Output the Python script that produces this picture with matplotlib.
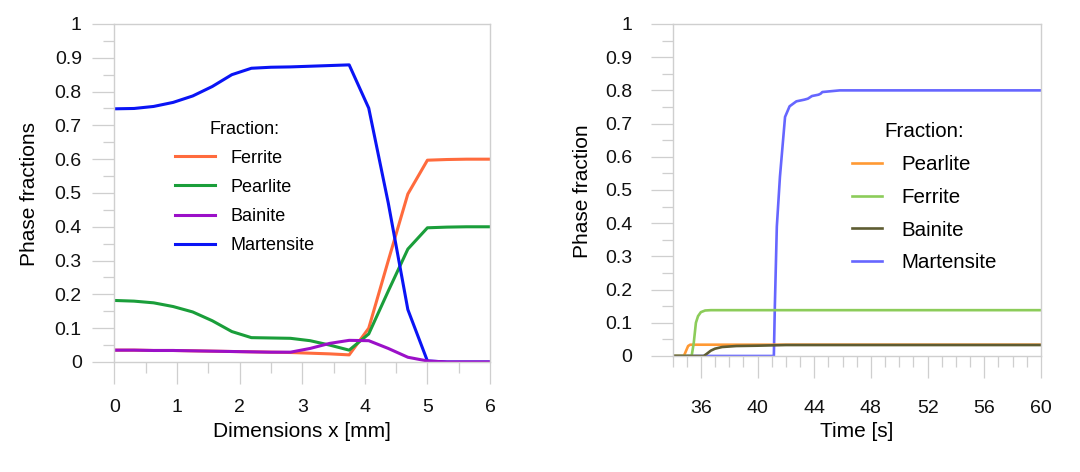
import matplotlib
matplotlib.use('Agg')
import matplotlib.pyplot as plt
from matplotlib.ticker import MultipleLocator

plt.rcParams['font.family'] = ['Liberation Sans', 'DejaVu Sans']

# left: phase fractions along the specimen
x_mm = [0, 0.3125, 0.625, 0.9375, 1.25, 1.5625, 1.875, 2.1875, 2.5, 2.8125,
        3.125, 3.4375, 3.75, 4.0625, 4.375, 4.6875, 5.0, 5.3125, 5.625, 6.0]
ferrite = [0.035, 0.035, 0.034, 0.034, 0.033, 0.032, 0.031, 0.030, 0.029, 0.028,
           0.026, 0.024, 0.021, 0.100, 0.300, 0.497, 0.597, 0.599, 0.600, 0.600]
pearlite = [0.182, 0.180, 0.175, 0.164, 0.148, 0.122, 0.090, 0.072, 0.071, 0.070,
            0.063, 0.050, 0.035, 0.083, 0.210, 0.334, 0.397, 0.399, 0.400, 0.400]
bainite = [0.035, 0.035, 0.034, 0.034, 0.033, 0.032, 0.031, 0.030, 0.029, 0.029,
           0.040, 0.055, 0.064, 0.063, 0.040, 0.014, 0.003, 0.000, 0.000, 0.000]
martensite = [0.749, 0.750, 0.756, 0.768, 0.787, 0.815, 0.850, 0.869, 0.872, 0.873,
              0.875, 0.877, 0.879, 0.751, 0.470, 0.155, 0.003, 0.000, 0.000, 0.000]

# right: phase fractions over time
t_pearlite = [34, 34.8, 34.95, 35.1, 35.25, 35.5, 60]
pearlite_t = [0, 0, 0.015, 0.030, 0.034, 0.034, 0.034]
t_ferrite = [34, 35.35, 35.5, 35.65, 35.8, 36.0, 36.3, 36.7, 60]
ferrite_t = [0, 0, 0.04, 0.10, 0.12, 0.132, 0.137, 0.138, 0.138]
t_bainite = [34, 36.2, 36.4, 36.7, 37.0, 37.5, 38.5, 40.0, 42.0, 60]
bainite_t = [0, 0, 0.006, 0.016, 0.022, 0.027, 0.030, 0.031, 0.033, 0.033]
t_martensite = [34, 41.15, 41.22, 41.36, 41.58, 41.94, 42.26, 42.74, 43.3, 43.55,
                43.84, 44.3, 44.45, 44.57, 45.3, 45.8, 60]
martensite_t = [0, 0, 0.15, 0.39, 0.54, 0.72, 0.752, 0.767, 0.772, 0.775,
                0.783, 0.787, 0.79, 0.795, 0.798, 0.8, 0.8]

GRAY = '#cfcfcf'


def style_axes(ax, xpad, ypad):
    for sp in ax.spines.values():
        sp.set_color(GRAY)
        sp.set_linewidth(1.0)
    ax.tick_params(which='major', direction='out', length=16, width=0.9,
                   color=GRAY, labelsize=14, labelcolor='#111111')
    ax.tick_params(which='minor', direction='out', length=8, width=0.9, color=GRAY)
    ax.tick_params(axis='x', pad=xpad)
    ax.tick_params(axis='y', pad=ypad)
    ax.yaxis.set_minor_locator(MultipleLocator(0.05))
    ax.set_ylim(0, 1)
    ax.set_yticks([i / 10 for i in range(11)])
    ax.set_yticklabels(['0'] + ['0.%d' % i for i in range(1, 10)] + ['1'])


fig = plt.figure(figsize=(10.8, 4.72), dpi=100)
ax1 = fig.add_axes([0.106, 0.2331, 0.3477, 0.7161])
ax2 = fig.add_axes([0.6227, 0.2458, 0.3412, 0.7034])

# left panel
lf, = ax1.plot(x_mm, ferrite, color='#ff6b3d', lw=2.2)
lp, = ax1.plot(x_mm, pearlite, color='#1a9e3a', lw=2.2)
lm, = ax1.plot(x_mm, martensite, color='#0a14f5', lw=2.2)
lb, = ax1.plot(x_mm, bainite, color='#9b10c8', lw=2.2)
style_axes(ax1, xpad=10.5, ypad=7.5)
ax1.set_xlim(0, 6)
ax1.xaxis.set_major_locator(MultipleLocator(1))
ax1.xaxis.set_minor_locator(MultipleLocator(0.5))
ax1.legend([lf, lp, lb, lm], ['Ferrite', 'Pearlite', 'Bainite', 'Martensite'],
           title='Fraction:', frameon=False, loc='center',
           bbox_to_anchor=(0.3475, 0.517), fontsize=13, title_fontsize=13,
           handlelength=2.2, handletextpad=0.9, labelspacing=0.67)
fig.text(302 / 1080, 1 - 431.7 / 472, 'Dimensions x [mm]', fontsize=15,
         ha='center', va='center')
fig.text(29.5 / 1080, 1 - 194 / 472, 'Phase fractions', fontsize=15,
         rotation=90, ha='center', va='center')

# right panel
rm, = ax2.plot(t_martensite, martensite_t, color='#6666ff', lw=1.9)
rp, = ax2.plot(t_pearlite, pearlite_t, color='#ff9933', lw=1.9)
rf, = ax2.plot(t_ferrite, ferrite_t, color='#8ccc5a', lw=1.9)
rb, = ax2.plot(t_bainite, bainite_t, color='#5e5c32', lw=1.9)
style_axes(ax2, xpad=16, ypad=13)
ax2.set_xlim(34, 60)
ax2.set_xticks([36, 40, 44, 48, 52, 56, 60])
ax2.xaxis.set_minor_locator(MultipleLocator(1))
ax2.legend([rp, rf, rb, rm], ['Pearlite', 'Ferrite', 'Bainite', 'Martensite'],
           title='Fraction:', frameon=False, loc='center',
           bbox_to_anchor=(0.683, 0.478), fontsize=14.8, title_fontsize=14.8,
           handlelength=1.5, handletextpad=0.92, labelspacing=0.67)
fig.text(856.7 / 1080, 1 - 431.7 / 472, 'Time [s]', fontsize=15,
         ha='center', va='center')
fig.text(582 / 1080, 1 - 191 / 472, 'Phase fraction', fontsize=15,
         rotation=90, ha='center', va='center')

fig.savefig('out.png', dpi=100)
